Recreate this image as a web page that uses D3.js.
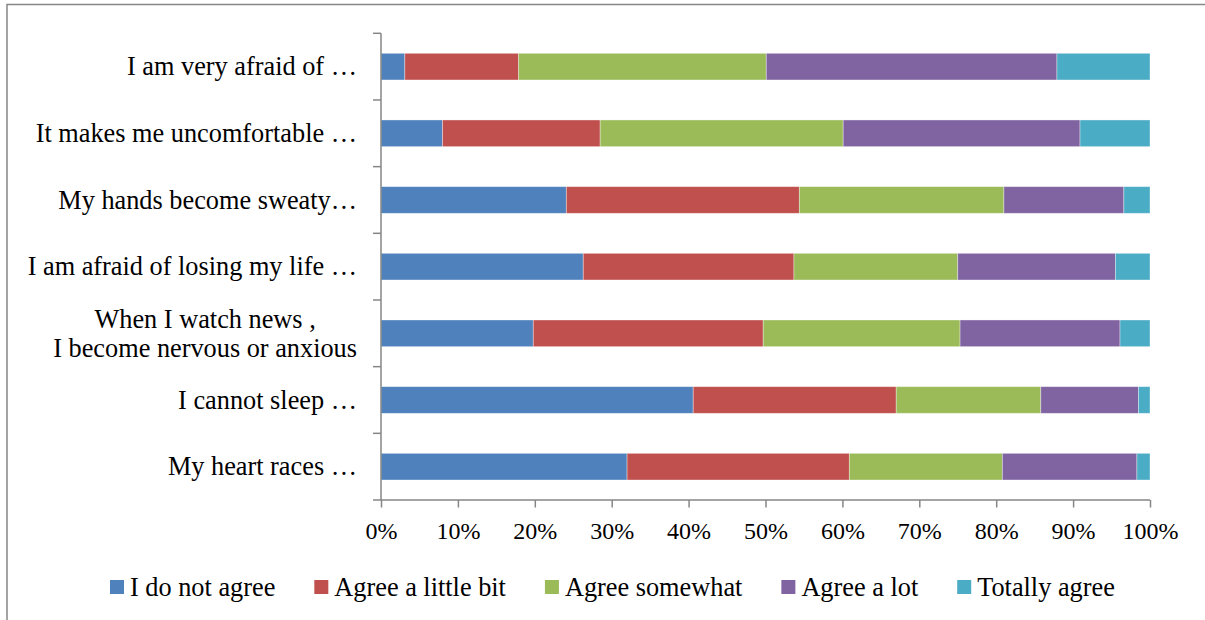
<!DOCTYPE html>
<html>
<head>
<meta charset="utf-8">
<script src="https://cdn.jsdelivr.net/npm/d3@7"></script>
<style>
  html, body { margin: 0; padding: 0; background: #fff; }
  svg { display: block; }
  text { font-family: "Liberation Serif", "Times New Roman", serif; fill: #000; }
</style>
</head>
<body>
<svg id="chart" width="1205" height="620"></svg>
<script>
// Survey statements, listed top to bottom
const categories = [
  ["I am very afraid of …"],
  ["It makes me uncomfortable …"],
  ["My hands become sweaty…"],
  ["I am afraid of losing my life …"],
  ["When I watch news ,", "I become nervous or anxious"],
  ["I cannot sleep …"],
  ["My heart races …"]
];

// Response levels (legend order = stacking order)
const responses = ["I do not agree", "Agree a little bit", "Agree somewhat", "Agree a lot", "Totally agree"];

// Share of answers per statement (%), one array per response level
const notAgree     = [3.1,  8.0, 24.1, 26.3, 19.8, 40.6, 32.0];
const agreeLittle  = [14.8, 20.5, 30.3, 27.4, 29.9, 26.4, 28.9];
const agreeSome    = [32.2, 31.6, 26.6, 21.3, 25.6, 18.8, 19.9];
const agreeLot     = [37.8, 30.8, 15.6, 20.5, 20.8, 12.7, 17.5];
const totallyAgree = [12.1,  9.1,  3.4,  4.5,  3.9,  1.5,  1.7];

const tickValues = [0, 10, 20, 30, 40, 50, 60, 70, 80, 90, 100];
const colors = ["#4F81BD", "#C0504D", "#9BBB59", "#8064A2", "#4BACC6"];

const seriesValues = [notAgree, agreeLittle, agreeSome, agreeLot, totallyAgree];
const rows = categories.map((c, i) => {
  const r = { key: i };
  responses.forEach((name, k) => { r[name] = seriesValues[k][i]; });
  return r;
});

const svg = d3.select("#chart");
const axisColor = "#868686";
const labelSize = 26.3;
const tickSize = 24;

// Outer frame (top and left edges visible)
svg.append("rect")
  .attr("x", 7).attr("y", 4.5)
  .attr("width", 1300).attr("height", 700)
  .attr("fill", "none").attr("stroke", axisColor).attr("stroke-width", 1.5);

const x = d3.scaleLinear().domain([0, 100]).range([381, 1150]);
const y = d3.scaleBand().domain(d3.range(categories.length)).range([33.3, 500]).paddingInner(0.6).paddingOuter(0.3);

const stack = d3.stack().keys(responses).offset(d3.stackOffsetExpand);
const stacked = stack(rows);

svg.append("g").selectAll("g.series")
  .data(stacked)
  .join("g")
  .attr("class", "series")
  .attr("fill", (d, i) => colors[i])
  .selectAll("rect")
  .data(d => d)
  .join("rect")
  .attr("x", d => x(d[0] * 100))
  .attr("width", d => x(d[1] * 100) - x(d[0] * 100))
  .attr("y", (d, i) => y(i))
  .attr("height", y.bandwidth())
  .attr("stroke", "#ffffff")
  .attr("stroke-opacity", 0.45)
  .attr("stroke-width", 0.8);

// Category axis: line with ticks at band boundaries
const bounds = d3.range(categories.length + 1).map(i => 33.3 + i * y.step());
svg.append("line")
  .attr("x1", 381).attr("x2", 381).attr("y1", 33.3).attr("y2", 500)
  .attr("stroke", axisColor).attr("stroke-width", 1.5);
svg.selectAll("line.ytick").data(bounds).join("line")
  .attr("class", "ytick")
  .attr("x1", 373).attr("x2", 381)
  .attr("y1", d => d).attr("y2", d => d)
  .attr("stroke", axisColor).attr("stroke-width", 1.5);

// Category labels (multi-line labels are centred on their longest line)
const labelRight = 357;
categories.forEach((lines, i) => {
  const cy = y(i) + y.bandwidth() / 2;
  const t = svg.append("text").attr("font-size", labelSize);
  const lh = 29;
  const tsp = lines.map((ln, k) => t.append("tspan")
    .attr("y", cy + (k - (lines.length - 1) / 2) * lh)
    .attr("dy", "0.33em")
    .text(ln));
  if (lines.length === 1) {
    t.attr("text-anchor", "end");
    tsp[0].attr("x", labelRight);
  } else {
    const widths = tsp.map(s => s.node().getComputedTextLength());
    const maxW = d3.max(widths);
    t.attr("text-anchor", "middle");
    tsp.forEach(s => s.attr("x", labelRight - maxW / 2));
  }
});

// Value axis at the bottom
const xAxis = d3.axisBottom(x).tickValues(tickValues).tickSize(7.5).tickPadding(14)
  .tickFormat(d => d + "%");
const ax = svg.append("g").attr("transform", "translate(0,500)").call(xAxis);
ax.select(".domain").attr("stroke", axisColor).attr("stroke-width", 1.5)
  .attr("d", "M381,0H1150");
ax.selectAll(".tick line").attr("stroke", axisColor).attr("stroke-width", 1.5);
ax.selectAll(".tick text")
  .attr("font-size", tickSize)
  .attr("font-family", "Liberation Serif, Times New Roman, serif")
  .attr("fill", "#000");

// Legend
const legend = svg.append("g").attr("transform", "translate(110,587)");
let lx = 0;
responses.forEach((name, i) => {
  const item = legend.append("g").attr("transform", `translate(${lx},0)`);
  item.append("rect").attr("x", 0).attr("y", -7).attr("width", 14).attr("height", 14)
    .attr("fill", colors[i]);
  const t = item.append("text").attr("x", 20).attr("y", 0).attr("dy", "0.33em")
    .attr("font-size", labelSize).text(name);
  lx += 20 + t.node().getComputedTextLength() + 39;
});
</script>
</body>
</html>
